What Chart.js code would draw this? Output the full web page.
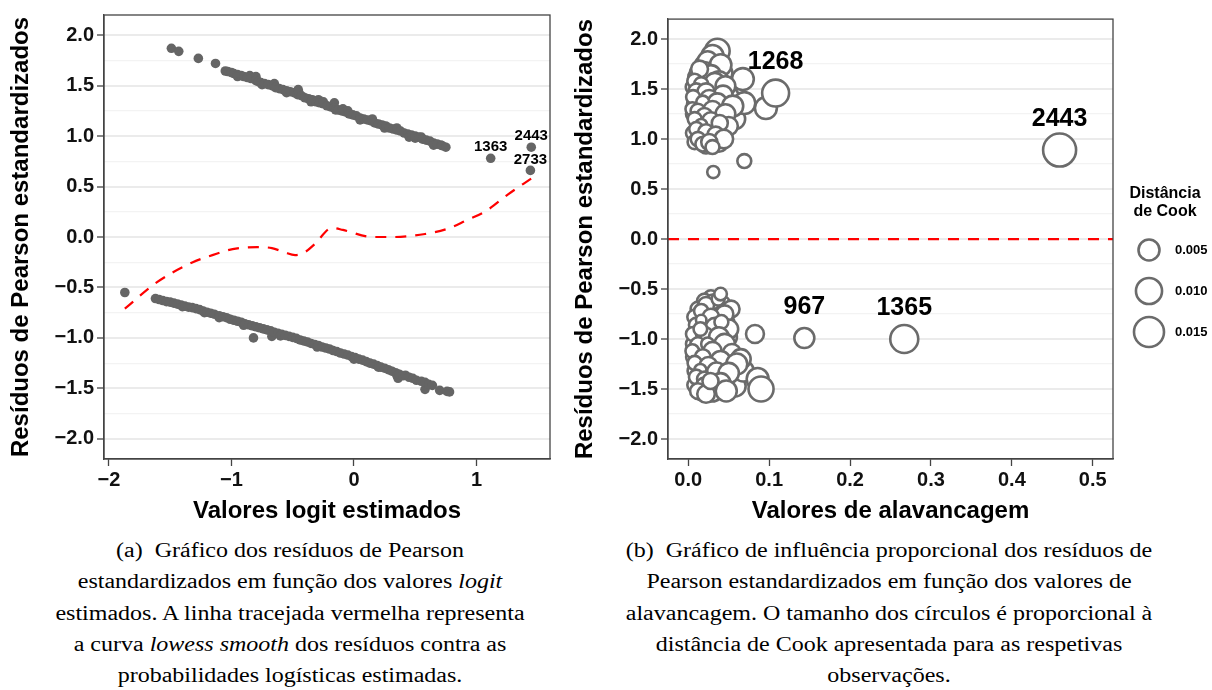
<!DOCTYPE html>
<html>
<head>
<meta charset="utf-8">
<script src="https://cdn.jsdelivr.net/npm/chart.js"></script>
<style>
  body { margin: 0; background: #fff; width: 1212px; height: 690px; position: relative; overflow: hidden; }
  #caixaA { position: absolute; left: 0; top: 0; }
  #caixaB { position: absolute; left: 565px; top: 0; }
  .legenda { position: absolute; top: 535px; font-family: "Liberation Serif", "Times New Roman", serif;
             font-size: 20px; line-height: 31.3px; text-align: center; white-space: nowrap; color: #000;
             transform: scaleX(1.2); transform-origin: center top; }
  #legA { left: 90px; width: 400px; }
  #legB { left: 669px; width: 440px; }
</style>
</head>
<body>
<canvas id="caixaA" width="565" height="530"></canvas>
<canvas id="caixaB" width="647" height="530"></canvas>
<div class="legenda" id="legA">(a)&nbsp; Gráfico dos resíduos de Pearson<br>estandardizados em função dos valores <i>logit</i><br>estimados. A linha tracejada vermelha representa<br>a curva <i>lowess smooth</i> dos resíduos contra as<br>probabilidades logísticas estimadas.</div>
<div class="legenda" id="legB">(b)&nbsp; Gráfico de influência proporcional dos resíduos de<br>Pearson estandardizados em função dos valores de<br>alavancagem. O tamanho dos círculos é proporcional à<br>distância de Cook apresentada para as respetivas<br>observações.</div>
<script>
// ---- DADOS ----

// eixos
const yMajor = [-2.0, -1.5, -1.0, -0.5, 0.0, 0.5, 1.0, 1.5, 2.0];
const yMinor = [-1.75, -1.25, -0.75, -0.25, 0.25, 0.75, 1.25, 1.75];
const xTicksA = [-2, -1, 0, 1];
const xTicksB = [0.0, 0.1, 0.2, 0.3, 0.4, 0.5];

// (a) residuos vs logit: banda superior (y = 1)
const bandaSuperior = [
  [-1.49, 1.87], [-1.43, 1.84], [-1.27, 1.77], [-1.13, 1.72],
  [-1.05, 1.645], [-1.03, 1.64], [-1.00, 1.63], [-0.98, 1.62], [-0.95, 1.61], [-0.95, 1.59],
  [-0.92, 1.60], [-0.90, 1.59], [-0.87, 1.58], [-0.85, 1.60], [-0.84, 1.57], [-0.80, 1.59],
  [-0.80, 1.55], [-0.78, 1.54], [-0.76, 1.53], [-0.75, 1.51], [-0.73, 1.52], [-0.70, 1.51],
  [-0.67, 1.50], [-0.65, 1.52], [-0.64, 1.48], [-0.61, 1.47], [-0.58, 1.46], [-0.55, 1.45],
  [-0.55, 1.43], [-0.52, 1.44], [-0.49, 1.43], [-0.455, 1.46], [-0.46, 1.41], [-0.45, 1.43],
  [-0.43, 1.40], [-0.40, 1.38], [-0.37, 1.37], [-0.35, 1.34], [-0.34, 1.36], [-0.31, 1.34],
  [-0.29, 1.36], [-0.28, 1.33], [-0.25, 1.32], [-0.25, 1.34], [-0.22, 1.30], [-0.19, 1.29],
  [-0.16, 1.33], [-0.16, 1.28], [-0.15, 1.26], [-0.13, 1.26], [-0.10, 1.25], [-0.09, 1.27],
  [-0.07, 1.24], [-0.05, 1.25], [-0.04, 1.22], [-0.01, 1.21], [0.02, 1.20], [0.05, 1.18],
  [0.05, 1.16], [0.08, 1.17], [0.11, 1.16], [0.14, 1.15], [0.15, 1.17], [0.17, 1.13],
  [0.20, 1.12], [0.23, 1.11], [0.25, 1.08], [0.26, 1.10], [0.29, 1.08], [0.32, 1.07],
  [0.35, 1.06], [0.35, 1.08], [0.38, 1.05], [0.41, 1.03], [0.44, 1.02], [0.45, 0.99],
  [0.47, 1.01], [0.50, 0.98], [0.50, 1.00], [0.53, 0.99], [0.55, 0.99], [0.56, 0.97],
  [0.59, 0.96], [0.62, 0.95], [0.65, 0.93], [0.65, 0.91], [0.68, 0.92], [0.71, 0.91],
  [0.72, 0.905], [0.75, 0.89]
];

// (a) banda inferior (y = 0)
const bandaInferior = [
  [-1.87, -0.55],
  [-1.62, -0.61], [-1.59, -0.62], [-1.56, -0.63], [-1.53, -0.64], [-1.50, -0.645], [-1.47, -0.655],
  [-1.44, -0.665], [-1.41, -0.675], [-1.40, -0.69], [-1.38, -0.685], [-1.35, -0.695], [-1.32, -0.70],
  [-1.29, -0.71], [-1.26, -0.72], [-1.23, -0.735], [-1.22, -0.75], [-1.20, -0.745], [-1.17, -0.755],
  [-1.14, -0.765], [-1.10, -0.78], [-1.10, -0.80], [-1.07, -0.79], [-1.04, -0.80], [-1.01, -0.815],
  [-0.98, -0.825], [-0.95, -0.835], [-0.92, -0.845], [-0.90, -0.875], [-0.89, -0.86], [-0.86, -0.87],
  [-0.83, -0.88], [-0.82, -1.00], [-0.80, -0.89], [-0.77, -0.90], [-0.74, -0.91], [-0.71, -0.92],
  [-0.68, -0.93], [-0.67, -0.985], [-0.65, -0.945], [-0.62, -0.955], [-0.60, -0.98], [-0.59, -0.965],
  [-0.56, -0.975], [-0.53, -0.985], [-0.50, -0.995], [-0.47, -1.005], [-0.44, -1.02], [-0.41, -1.03],
  [-0.38, -1.04], [-0.35, -1.055], [-0.32, -1.065], [-0.30, -1.09], [-0.29, -1.075], [-0.26, -1.09],
  [-0.23, -1.10], [-0.20, -1.11], [-0.17, -1.125], [-0.14, -1.135], [-0.11, -1.15], [-0.08, -1.16],
  [-0.05, -1.17], [-0.02, -1.185], [0.00, -1.21], [0.01, -1.195], [0.04, -1.21], [0.07, -1.22],
  [0.10, -1.235], [0.13, -1.25], [0.16, -1.26], [0.19, -1.275], [0.20, -1.29], [0.22, -1.29],
  [0.25, -1.30], [0.28, -1.315], [0.31, -1.33], [0.34, -1.345], [0.35, -1.37], [0.36, -1.40],
  [0.37, -1.36], [0.40, -1.375], [0.42, -1.37], [0.45, -1.39], [0.48, -1.40], [0.51, -1.42],
  [0.55, -1.43], [0.58, -1.51], [0.58, -1.44], [0.61, -1.46], [0.64, -1.47], [0.70, -1.52],
  [0.76, -1.53], [0.78, -1.535]
];

// (a) observacoes identificadas
const idsA = ['1363', '2443', '2733'];
const pontosIdA = [[1.116, 0.78], [1.447, 0.89], [1.44, 0.66]];

// (a) curva lowess
const lowessX = [-1.87, -1.61, -1.315, -1.155, -0.99, -0.79, -0.67, -0.57, -0.48, -0.40, -0.32, -0.18, -0.09, 0.15, 0.32, 0.58, 0.76, 0.91, 1.08, 1.255, 1.447];
const lowessY = [-0.71, -0.45, -0.25, -0.18, -0.12, -0.10, -0.11, -0.15, -0.18, -0.15, -0.07, 0.09, 0.07, 0.00, 0.00, 0.03, 0.08, 0.16, 0.26, 0.42, 0.58];

// (b) alavancagem, residuo, distancia de Cook
const influencia = [
  // grupo superior
  [0.010, 1.62, 0.0018], [0.018, 1.60, 0.0025], [0.026, 1.58, 0.0030], [0.034, 1.62, 0.0035],
  [0.042, 1.66, 0.0045], [0.006, 1.52, 0.0012], [0.014, 1.50, 0.0020], [0.030, 1.50, 0.0035],
  [0.038, 1.47, 0.0030], [0.050, 1.42, 0.0045], [0.008, 1.35, 0.0014], [0.024, 1.33, 0.0022],
  [0.032, 1.32, 0.0028], [0.042, 1.30, 0.0035], [0.006, 1.25, 0.0010], [0.016, 1.24, 0.0016],
  [0.036, 1.22, 0.0030], [0.058, 1.20, 0.0042], [0.012, 1.18, 0.0012], [0.024, 1.12, 0.0020],
  [0.040, 1.10, 0.0032], [0.006, 1.06, 0.0010], [0.016, 1.03, 0.0014], [0.028, 1.02, 0.0022],
  [0.038, 0.96, 0.0025], [0.008, 0.97, 0.0010], [0.022, 0.93, 0.0012], [0.045, 1.17, 0.0035],
  [0.020, 1.74, 0.0035], [0.032, 1.72, 0.0045],
  [0.036, 1.88, 0.0083], [0.030, 1.83, 0.0060], [0.024, 1.78, 0.0040], [0.040, 1.74, 0.0055],
  [0.012, 1.66, 0.0020], [0.020, 1.68, 0.0030], [0.028, 1.64, 0.0042], [0.0675, 1.60, 0.0058],
  [0.014, 1.70, 0.0022], [0.038, 1.58, 0.0040], [0.008, 1.58, 0.0012], [0.033, 1.56, 0.0045],
  [0.046, 1.53, 0.0040], [0.016, 1.55, 0.0009], [0.043, 1.44, 0.0035], [0.010, 1.48, 0.0015],
  [0.022, 1.47, 0.0025], [0.006, 1.42, 0.0009], [0.026, 1.40, 0.0030], [0.036, 1.36, 0.0038],
  [0.0693, 1.36, 0.0058], [0.096, 1.31, 0.0058], [0.055, 1.33, 0.0050], [0.018, 1.37, 0.0006],
  [0.005, 1.30, 0.0008], [0.012, 1.28, 0.0012], [0.030, 1.29, 0.0030], [0.046, 1.25, 0.0040],
  [0.020, 1.23, 0.0018], [0.008, 1.20, 0.0009], [0.028, 1.18, 0.0026], [0.050, 1.13, 0.0030],
  [0.039, 1.16, 0.0018], [0.016, 1.14, 0.0004], [0.010, 1.10, 0.0010], [0.022, 1.07, 0.0016],
  [0.034, 1.04, 0.0022], [0.044, 1.00, 0.0032], [0.012, 1.00, 0.0011], [0.018, 0.95, 0.0012],
  [0.026, 0.97, 0.0018], [0.030, 0.92, 0.0009], [0.0693, 0.78, 0.0009], [0.031, 0.67, 0.0004],
  // grupo inferior
  [0.028, -0.58, 0.0008], [0.020, -0.62, 0.0012], [0.034, -0.68, 0.0020], [0.012, -0.70, 0.0012],
  [0.042, -0.65, 0.0018], [0.024, -0.74, 0.0020], [0.008, -0.78, 0.0012], [0.036, -0.80, 0.0030],
  [0.046, -0.84, 0.0030], [0.020, -0.85, 0.0018], [0.028, -0.92, 0.0028], [0.010, -0.98, 0.0012],
  [0.032, -1.00, 0.0035], [0.048, -0.98, 0.0040], [0.018, -1.02, 0.0018], [0.006, -1.05, 0.0010],
  [0.036, -1.08, 0.0035], [0.022, -1.10, 0.0025], [0.012, -1.14, 0.0012], [0.046, -1.17, 0.0042],
  [0.030, -1.20, 0.0032], [0.006, -1.18, 0.0009], [0.018, -1.24, 0.0020], [0.052, -1.29, 0.0048],
  [0.030, -1.30, 0.0030], [0.008, -1.32, 0.0010], [0.042, -1.38, 0.0040], [0.015, -1.44, 0.0018],
  [0.032, -1.46, 0.0035], [0.058, -1.47, 0.0050], [0.008, -1.46, 0.0012], [0.016, -1.53, 0.0018],
  [0.068, -1.32, 0.0050],
  [0.053, -0.70, 0.0022], [0.030, -0.63, 0.0012], [0.022, -0.66, 0.0018], [0.045, -0.75, 0.0025],
  [0.016, -0.72, 0.0010], [0.028, -0.78, 0.0020], [0.037, -0.60, 0.0006], [0.040, -0.55, 0.0005],
  [0.033, -0.88, 0.0030], [0.050, -0.90, 0.0035], [0.010, -0.86, 0.0012], [0.041, -0.83, 0.0009],
  [0.016, -0.81, 0.0001], [0.0825, -0.95, 0.0028], [0.006, -0.95, 0.0010], [0.020, -0.96, 0.0020],
  [0.038, -0.98, 0.0040], [0.015, -0.90, 0.0008], [0.045, -1.05, 0.0045], [0.012, -1.06, 0.0015],
  [0.024, -1.05, 0.0006], [0.005, -1.12, 0.0008], [0.030, -1.12, 0.0030], [0.054, -1.14, 0.0029],
  [0.065, -1.20, 0.0040], [0.018, -1.18, 0.0016], [0.040, -1.22, 0.0042], [0.008, -1.24, 0.0010],
  [0.060, -1.25, 0.0050], [0.025, -1.27, 0.0028], [0.015, -1.31, 0.0004], [0.035, -1.33, 0.0035],
  [0.050, -1.34, 0.0045], [0.010, -1.38, 0.0012], [0.020, -1.40, 0.0012], [0.0858, -1.40, 0.0058],
  [0.090, -1.50, 0.0088], [0.040, -1.44, 0.0040], [0.020, -1.47, 0.0022], [0.012, -1.52, 0.0016],
  [0.030, -1.53, 0.0035], [0.047, -1.52, 0.0050], [0.022, -1.55, 0.0026], [0.0275, -1.42, 0.0018]
];

// (b) observacoes identificadas
const idsB = ['1268', '2443', '967', '1365'];
const pontosIdB = [[0.108, 1.46, 0.0110], [0.459, 0.89, 0.0195], [0.1435, -0.99, 0.0042], [0.267, -1.00, 0.0123]];

// (b) linha de referencia e legenda de tamanhos
const linhaRef = 0;
const cookLegenda = [0.005, 0.010, 0.015];

// ---- ESTILO ----
const fonte = '"Liberation Sans", Arial, sans-serif';
Chart.defaults.font.family = fonte;
Chart.defaults.color = '#000';
const cinzaPonto = '#656565';
const cinzaAnel = '#6b6b6b';

// raio do circulo (px) proporcional a distancia de Cook
function raioCook(d) {
  return 4.35 + 87 * Math.sqrt(d);
}

function fmtNum(v, casas) {
  return v.toFixed(casas).replace('-', '\u2212');
}

const yTicksTodos = [...yMajor, ...yMinor].sort((a, b) => a - b);

function eixoY(larguraEixo, padTitulo) {
  return {
    min: -2.2, max: 2.2,
    afterBuildTicks: s => { s.ticks = yTicksTodos.map(v => ({ value: v })); },
    afterFit: s => { s.width = larguraEixo; },
    border: { display: true, color: '#444', width: 1.3 },
    grid: {
      color: c => yMajor.includes(c.tick.value) ? '#ebebeb' : '#f3f3f3',
      lineWidth: c => yMajor.includes(c.tick.value) ? 2 : 1.2,
      tickColor: c => yMajor.includes(c.tick.value) ? '#444' : 'rgba(0,0,0,0)',
      tickLength: 7, tickWidth: 1.3
    },
    ticks: {
      autoSkip: false, padding: 3, color: '#111',
      font: { size: 20, weight: 'bold' },
      callback: v => yMajor.includes(v) ? fmtNum(v, 1) : ''
    },
    title: {
      display: true, text: 'Resíduos de Pearson estandardizados',
      font: { size: 24, weight: 'bold' }, padding: { top: padTitulo, bottom: 0 }, color: '#000'
    }
  };
}

function eixoX(min, max, ticks, casas, titulo) {
  return {
    type: 'linear', min: min, max: max,
    afterBuildTicks: s => { s.ticks = ticks.map(v => ({ value: v })); },
    afterFit: s => { s.height = 71; },
    border: { display: true, color: '#444', width: 1.3 },
    grid: { drawOnChartArea: false, drawTicks: true, tickLength: 7, tickWidth: 1.3, tickColor: '#444' },
    ticks: {
      autoSkip: false, maxRotation: 0, padding: 2, color: '#111',
      font: { size: 20, weight: 'bold' },
      callback: v => fmtNum(v, casas)
    },
    title: {
      display: true, text: titulo, color: '#000',
      font: { size: 24, weight: 'bold' }, padding: { top: 0, bottom: 4 }
    }
  };
}

// moldura do painel
const moldura = {
  id: 'moldura',
  afterDatasetsDraw(chart) {
    const a = chart.chartArea, c = chart.ctx;
    c.save();
    c.strokeStyle = '#444';
    c.lineWidth = 1.3;
    c.strokeRect(a.left, a.top, a.right - a.left, a.bottom - a.top);
    c.restore();
  }
};

// rotulos das observacoes identificadas
const rotulos = {
  id: 'rotulos',
  afterDraw(chart, args, opts) {
    const meta = chart.getDatasetMeta(opts.conjunto);
    const c = chart.ctx;
    c.save();
    c.font = 'bold ' + opts.tamanho + 'px ' + fonte;
    c.fillStyle = '#000';
    c.textAlign = 'center';
    c.textBaseline = 'middle';
    opts.ids.forEach((t, i) => {
      const el = meta.data[i];
      c.fillText(t, el.x, el.y - opts.dy);
    });
    c.restore();
  }
};

// legenda da distancia de Cook
const legendaCook = {
  id: 'legendaCook',
  afterDraw(chart) {
    const c = chart.ctx;
    c.save();
    c.fillStyle = '#000';
    c.textAlign = 'center';
    c.textBaseline = 'middle';
    c.font = 'bold 16px ' + fonte;
    c.fillText('Distância', 600, 194);
    c.fillText('de Cook', 600, 212);
    cookLegenda.forEach((v, i) => {
      const y = 250 + i * 41;
      c.beginPath();
      c.arc(584, y, raioCook(v), 0, 2 * Math.PI);
      c.fillStyle = '#fff';
      c.fill();
      c.lineWidth = 2.6;
      c.strokeStyle = cinzaAnel;
      c.stroke();
      c.fillStyle = '#000';
      c.textAlign = 'left';
      c.font = 'bold 13px ' + fonte;
      c.fillText(v.toFixed(3), 610, y);
    });
    c.restore();
  }
};

// ---- GRAFICO (a) ----
new Chart(document.getElementById('caixaA'), {
  type: 'scatter',
  data: {
    datasets: [
      {
        label: 'lowess',
        data: lowessX.map((x, i) => ({ x: x, y: lowessY[i] })),
        showLine: true, borderColor: '#ff0000', borderWidth: 2.2, borderDash: [11, 9],
        pointRadius: 0, cubicInterpolationMode: 'monotone', fill: false
      },
      {
        label: 'identificados',
        data: pontosIdA.map(p => ({ x: p[0], y: p[1] })),
        backgroundColor: cinzaPonto, borderWidth: 0, pointRadius: 4.8
      },
      {
        label: 'residuos',
        data: [...bandaSuperior, ...bandaInferior].map(p => ({ x: p[0], y: p[1] })),
        backgroundColor: cinzaPonto, borderWidth: 0, pointRadius: 4.8
      }
    ]
  },
  options: {
    responsive: false, animation: false, devicePixelRatio: 1,
    layout: { padding: { top: 13, right: 15, bottom: 0, left: 0 } },
    plugins: {
      legend: { display: false }, tooltip: { enabled: false },
      rotulos: { conjunto: 1, ids: idsA, tamanho: 15, dy: 11 }
    },
    scales: {
      x: eixoX(-2.04, 1.60, xTicksA, 0, 'Valores logit estimados'),
      y: eixoY(104, 7)
    }
  },
  plugins: [moldura, rotulos]
});

// ---- GRAFICO (b) ----
new Chart(document.getElementById('caixaB'), {
  type: 'bubble',
  data: {
    datasets: [
      {
        type: 'scatter', label: 'referencia',
        data: [{ x: -0.025, y: linhaRef }, { x: 0.525, y: linhaRef }],
        showLine: true, borderColor: '#ff0000', borderWidth: 2.2, borderDash: [11, 9], pointRadius: 0
      },
      {
        label: 'identificados',
        data: pontosIdB.map(p => ({ x: p[0], y: p[1], r: raioCook(p[2]) })),
        backgroundColor: '#fff', borderColor: cinzaAnel, borderWidth: 2.6
      },
      {
        label: 'influencia',
        data: influencia.map(p => ({ x: p[0], y: p[1], r: raioCook(p[2]) })),
        backgroundColor: '#fff', borderColor: cinzaAnel, borderWidth: 2.6
      }
    ]
  },
  options: {
    responsive: false, animation: false, devicePixelRatio: 1,
    layout: { padding: { top: 13, right: 99, bottom: 0, left: 0 } },
    plugins: {
      legend: { display: false }, tooltip: { enabled: false },
      rotulos: { conjunto: 1, ids: idsB, tamanho: 25, dy: 31 }
    },
    scales: {
      x: eixoX(-0.025, 0.525, xTicksB, 1, 'Valores de alavancagem'),
      y: eixoY(103, 6)
    }
  },
  plugins: [moldura, rotulos, legendaCook]
});
</script>
</body>
</html>
